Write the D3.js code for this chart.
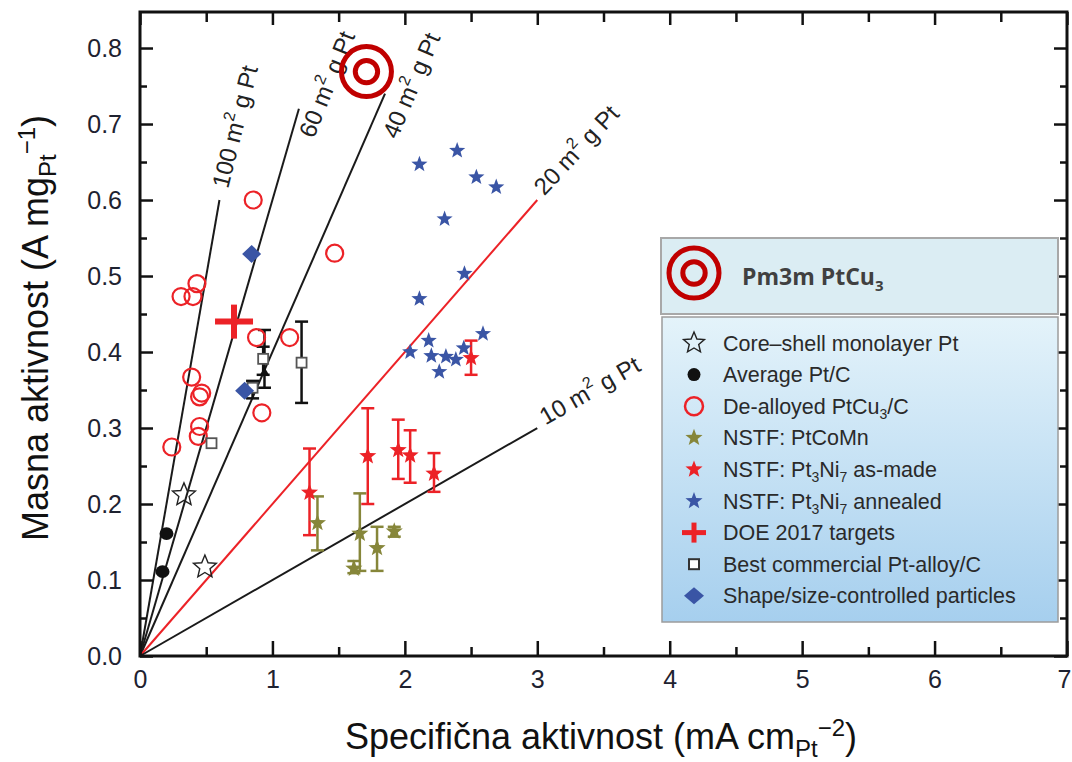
<!DOCTYPE html>
<html><head><meta charset="utf-8">
<script src="https://cdn.jsdelivr.net/npm/d3@7"></script>
<style>body{margin:0;background:#fff}svg{display:block}</style>
</head><body>
<svg id="c" width="1072" height="762"></svg>
<script>
// ---------------- DATA ----------------
const xTicks = [0,1,2,3,4,5,6,7];
const xMinorTicks = [0.5,1.5,2.5,3.5,4.5,5.5,6.5];
const yTicks = [0,0.1,0.2,0.3,0.4,0.5,0.6,0.7,0.8];
const yTickLabels = ["0.0","0.1","0.2","0.3","0.4","0.5","0.6","0.7","0.8"];
const yMinorTicks = [0.05,0.15,0.25,0.35,0.45,0.55,0.65,0.75];

// ECSA reference lines (m2/g Pt) and the specific activity where each ends
const ecsaValues = [100, 60, 40, 20, 10];
const ecsaEndSA = [0.6, 1.2, 1.85, 3.0, 3.0];
const ecsaLabelSA = [0.62, 1.27, 1.90, 3.02, 3.04];
const ecsaLabelMA = [0.616, 0.683, 0.682, 0.610, 0.310];

// Core-shell monolayer Pt  [SA, MA]
const coreShell = [[0.332,0.212],[0.49,0.117]];
// Average Pt/C
const avgPtC = [[0.20,0.161],[0.17,0.111]];
// De-alloyed PtCu3/C
const dealloyed = [[0.855,0.600],[1.47,0.530],[0.43,0.490],[0.31,0.473],[0.40,0.473],
  [0.88,0.419],[1.13,0.419],[0.39,0.367],[0.466,0.346],[0.45,0.341],[0.92,0.320],
  [0.45,0.302],[0.44,0.289],[0.24,0.275]];
// NSTF: PtCoMn  [SA, MA, low, high]
const ptCoMn = [[1.34,0.175,0.139,0.210],[1.66,0.161,0.112,0.214],[1.615,0.115,0.109,0.125],
  [1.79,0.142,0.112,0.170],[1.92,0.164,0.157,0.170]];
// NSTF: Pt3Ni7 as-made  [SA, MA, low, high]
const ptNiAsMade = [[1.28,0.215,0.159,0.273],[1.72,0.263,0.200,0.326],[1.95,0.271,0.233,0.311],
  [2.04,0.264,0.228,0.297],[2.22,0.240,0.216,0.267],[2.50,0.392,0.370,0.415]];
// NSTF: Pt3Ni7 annealed
const ptNiAnnealed = [[2.395,0.665],[2.11,0.647],[2.54,0.630],[2.69,0.617],[2.30,0.575],
  [2.45,0.503],[2.11,0.470],[2.59,0.424],[2.18,0.415],[2.04,0.400],[2.20,0.395],
  [2.31,0.394],[2.385,0.390],[2.445,0.405],[2.26,0.374]];
// DOE 2017 targets
const doeTarget = [[0.71,0.44]];
// Best commercial Pt-alloy/C [SA, MA, low, high] (null = no error bar)
const bestCommercial = [[0.54,0.280,null,null],[0.93,0.391,0.370,0.407],
  [1.22,0.386,0.333,0.440],[0.85,0.353,0.339,0.362]];
// extra unlabeled black point with error bar
const extraBlack = [[0.94,0.374,0.353,0.429]];
// Shape/size-controlled particles
const shapeControlled = [[0.843,0.529],[0.79,0.349]];
// Pm3m PtCu3 highlight
const pm3m = [[1.71,0.769]];

const legendLabels = ["Core\u2013shell monolayer Pt","Average Pt/C","De-alloyed PtCu|3|/C",
  "NSTF: PtCoMn","NSTF: Pt|3|Ni|7| as-made","NSTF: Pt|3|Ni|7| annealed","DOE 2017 targets",
  "Best commercial Pt-alloy/C","Shape/size-controlled particles"];

// ---------------- DRAWING ----------------
const RED = "#ec2227", BLUE = "#3a55a5", OLIVE = "#86863a", TARGET = "#c00000";
const FONT = "'Liberation Sans', Arial, Helvetica, sans-serif";
const svg = d3.select("#c");
svg.append("rect").attr("width",1072).attr("height",762).attr("fill","#fff");

const x = d3.scaleLinear().domain([0,7]).range([140,1067]);
const y = d3.scaleLinear().domain([0,0.8474]).range([656,12]);

function starPath(R, ratio){
  const pts=[];
  for(let i=0;i<10;i++){
    const a=-Math.PI/2+i*Math.PI/5, r=i%2?R*ratio:R;
    pts.push([r*Math.cos(a), r*Math.sin(a)]);
  }
  return "M"+pts.map(p=>p[0].toFixed(2)+","+p[1].toFixed(2)).join("L")+"Z";
}

// ECSA lines
const lineG = svg.append("g");
ecsaValues.forEach((e,i)=>{
  const sa=ecsaEndSA[i], ma=sa*e*0.01;
  lineG.append("line").attr("x1",x(0)).attr("y1",y(0)).attr("x2",x(sa)).attr("y2",y(ma))
    .attr("stroke", e===20?RED:"#1a1a1a").attr("stroke-width",2);
});
const labelAngles = [-76,-68,-67,-47,-30];
ecsaValues.forEach((e,i)=>{
  const t = lineG.append("text")
    .attr("transform",`translate(${x(ecsaLabelSA[i])},${y(ecsaLabelMA[i])}) rotate(${labelAngles[i]})`)
    .attr("font-family",FONT).attr("font-size",24).attr("fill","#222")
    .attr("dominant-baseline","middle");
  t.append("tspan").text(e+" m");
  t.append("tspan").attr("font-size",16).attr("dy",-9).text("2");
  t.append("tspan").attr("dy",9).text(" g Pt");
});

// Axes (ticks inward)
function styleAxis(g){
  g.select(".domain").remove();
  g.selectAll(".tick line").attr("stroke","#111").attr("stroke-width",2.5);
  g.selectAll("text").attr("font-family",FONT).attr("font-size",25).attr("fill","#1e2230");
}
svg.append("g").attr("transform",`translate(0,${y(0)})`)
  .call(d3.axisBottom(x).tickValues(xTicks).tickSize(-15).tickPadding(14).tickFormat(d3.format("d"))).call(styleAxis)
  .selectAll(".tick text").attr("dx",d=>d===7?-3:0);
svg.append("g").attr("transform",`translate(0,${y(0)})`)
  .call(d3.axisBottom(x).tickValues(xMinorTicks).tickSize(-9).tickFormat("")).call(styleAxis);
svg.append("g").attr("transform",`translate(0,${y.range()[1]})`)
  .call(d3.axisTop(x).tickValues(xTicks).tickSize(-13).tickFormat("")).call(styleAxis);
svg.append("g").attr("transform",`translate(0,${y.range()[1]})`)
  .call(d3.axisTop(x).tickValues(xMinorTicks).tickSize(-10).tickFormat("")).call(styleAxis);
svg.append("g").attr("transform",`translate(${x(0)},0)`)
  .call(d3.axisLeft(y).tickValues(yTicks).tickSize(-13).tickPadding(18).tickFormat((d,i)=>yTickLabels[i])).call(styleAxis);
svg.append("g").attr("transform",`translate(${x(0)},0)`)
  .call(d3.axisLeft(y).tickValues(yMinorTicks).tickSize(-7).tickFormat("")).call(styleAxis);
svg.append("g").attr("transform",`translate(${x(7)},0)`)
  .call(d3.axisRight(y).tickValues(yTicks).tickSize(-13).tickFormat("")).call(styleAxis);
svg.append("g").attr("transform",`translate(${x(7)},0)`)
  .call(d3.axisRight(y).tickValues(yMinorTicks).tickSize(-7).tickFormat("")).call(styleAxis);

// frame
svg.append("rect").attr("x",x(0)).attr("y",y.range()[1]).attr("width",x(7)-x(0)).attr("height",y(0)-y.range()[1])
  .attr("fill","none").attr("stroke","#111").attr("stroke-width",3);

// error bars helper
function errorBars(data, color, cap){
  const g = svg.append("g").attr("stroke",color).attr("stroke-width",2.5).attr("fill","none");
  data.filter(d=>d[2]!=null).forEach(d=>{
    g.append("line").attr("x1",x(d[0])).attr("x2",x(d[0])).attr("y1",y(d[2])).attr("y2",y(d[3]));
    [d[2],d[3]].forEach(v=>g.append("line").attr("x1",x(d[0])-cap).attr("x2",x(d[0])+cap).attr("y1",y(v)).attr("y2",y(v)));
  });
}
errorBars(extraBlack,"#111",6.5);
errorBars(bestCommercial,"#111",6.5);
errorBars(ptCoMn,OLIVE,6.5);
errorBars(ptNiAsMade,RED,6.5);

// markers
const mk = svg.append("g");
mk.selectAll(".ds").data(dealloyed).join("circle").attr("cx",d=>x(d[0])).attr("cy",d=>y(d[1])).attr("r",8.5)
  .attr("fill","none").attr("stroke",RED).attr("stroke-width",2.2);
mk.selectAll(".cs").data(coreShell).join("path").attr("d",starPath(12,0.45))
  .attr("transform",d=>`translate(${x(d[0])},${y(d[1])})`).attr("fill","none").attr("stroke","#222").attr("stroke-width",1.4);
mk.selectAll(".av").data(avgPtC).join("ellipse").attr("cx",d=>x(d[0])).attr("cy",d=>y(d[1])).attr("rx",7).attr("ry",6.3).attr("fill","#111");
mk.selectAll(".eb").data(extraBlack).join("path").attr("d",d3.symbol(d3.symbolTriangle,30)())
  .attr("transform",d=>`translate(${x(d[0])},${y(d[1])})`).attr("fill","#111");
mk.selectAll(".bc").data(bestCommercial).join("rect").attr("x",d=>x(d[0])-5).attr("y",d=>y(d[1])-5).attr("width",10).attr("height",10)
  .attr("fill","#fff").attr("stroke","#555").attr("stroke-width",1.8);
mk.selectAll(".sc").data(shapeControlled).join("path").attr("d","M0,-9L9.5,0L0,9L-9.5,0Z")
  .attr("transform",d=>`translate(${x(d[0])},${y(d[1])})`).attr("fill",BLUE);
mk.selectAll(".pc").data(ptCoMn).join("path").attr("d",starPath(9,0.42))
  .attr("transform",d=>`translate(${x(d[0])},${y(d[1])})`).attr("fill",OLIVE);
mk.selectAll(".pn").data(ptNiAsMade).join("path").attr("d",starPath(9,0.42))
  .attr("transform",d=>`translate(${x(d[0])},${y(d[1])})`).attr("fill",RED);
mk.selectAll(".pa").data(ptNiAnnealed).join("path").attr("d",starPath(8.5,0.42))
  .attr("transform",d=>`translate(${x(d[0])},${y(d[1])})`).attr("fill",BLUE);
doeTarget.forEach(d=>{
  mk.append("line").attr("x1",x(d[0])-19).attr("x2",x(d[0])+19).attr("y1",y(d[1])).attr("y2",y(d[1])).attr("stroke",RED).attr("stroke-width",6);
  mk.append("line").attr("x1",x(d[0])).attr("x2",x(d[0])).attr("y1",y(d[1])-17).attr("y2",y(d[1])+17).attr("stroke",RED).attr("stroke-width",6);
});
function target(g,cx,cy){
  g.append("circle").attr("cx",cx).attr("cy",cy).attr("r",25).attr("fill","none").attr("stroke",TARGET).attr("stroke-width",5);
  g.append("circle").attr("cx",cx).attr("cy",cy).attr("r",11.2).attr("fill","none").attr("stroke",TARGET).attr("stroke-width",5);
}
pm3m.forEach(d=>target(mk,x(d[0]),y(d[1])));

// axis titles
const xt = svg.append("text").attr("x",601).attr("y",749).attr("text-anchor","middle")
  .attr("font-family",FONT).attr("font-size",36).attr("fill","#111");
xt.append("tspan").text("Specifi\u010dna aktivnost (mA cm");
xt.append("tspan").attr("font-size",24).attr("dy",8).text("Pt");
xt.append("tspan").attr("font-size",24).attr("dy",-21).text("\u22122");
xt.append("tspan").attr("dy",13).text(")");
const yt = svg.append("text").attr("transform","translate(48,328) rotate(-90)").attr("text-anchor","middle")
  .attr("font-family",FONT).attr("font-size",36).attr("fill","#111");
yt.append("tspan").text("Masna aktivnost (A mg");
yt.append("tspan").attr("font-size",24).attr("dy",8).text("Pt");
yt.append("tspan").attr("font-size",24).attr("dy",-21).text("\u22121");
yt.append("tspan").attr("dy",13).text(")");

// legend
const defs = svg.append("defs");
const grad = defs.append("linearGradient").attr("id","lg").attr("x1",0).attr("y1",0).attr("x2",0).attr("y2",1);
grad.append("stop").attr("offset","0%").attr("stop-color","#e4f3fa");
grad.append("stop").attr("offset","100%").attr("stop-color","#a6cfee");
const L = svg.append("g");
L.append("rect").attr("x",661).attr("y",238).attr("width",397).attr("height",76).attr("fill","#dbedf3").attr("stroke","#a8a8a8").attr("stroke-width",2);
target(L,694,273);
const tt = L.append("text").attr("x",742).attr("y",285).attr("font-family","'Open Sans', sans-serif").attr("font-weight","bold")
  .attr("font-size",23).attr("fill","#404040");
tt.append("tspan").text("Pm3m PtCu");
tt.append("tspan").attr("font-size",15).attr("dy",6).text("3");
L.append("rect").attr("x",662).attr("y",317).attr("width",396).attr("height",305).attr("fill","url(#lg)").attr("stroke","#9c9c9c").attr("stroke-width",1.5);

const rowY = i => 343 + i*31.6;
const ix = 694;
L.append("path").attr("d",starPath(11,0.45)).attr("transform",`translate(${ix},${rowY(0)})`).attr("fill","none").attr("stroke","#222").attr("stroke-width",1.4);
L.append("circle").attr("cx",ix).attr("cy",rowY(1)).attr("r",6.5).attr("fill","#111");
L.append("circle").attr("cx",ix).attr("cy",rowY(2)).attr("r",9).attr("fill","none").attr("stroke",RED).attr("stroke-width",2.5);
L.append("path").attr("d",starPath(9,0.42)).attr("transform",`translate(${ix},${rowY(3)})`).attr("fill",OLIVE);
L.append("path").attr("d",starPath(9,0.42)).attr("transform",`translate(${ix},${rowY(4)})`).attr("fill",RED);
L.append("path").attr("d",starPath(9,0.42)).attr("transform",`translate(${ix},${rowY(5)})`).attr("fill",BLUE);
L.append("line").attr("x1",ix-12).attr("x2",ix+12).attr("y1",rowY(6)).attr("y2",rowY(6)).attr("stroke",RED).attr("stroke-width",5);
L.append("line").attr("x1",ix).attr("x2",ix).attr("y1",rowY(6)-10).attr("y2",rowY(6)+10).attr("stroke",RED).attr("stroke-width",5);
L.append("rect").attr("x",ix-5).attr("y",rowY(7)-5).attr("width",10).attr("height",10).attr("fill","#fff").attr("stroke","#333").attr("stroke-width",2);
L.append("path").attr("d","M0,-8.5L10,0L0,8.5L-10,0Z").attr("transform",`translate(${ix},${rowY(8)})`).attr("fill",BLUE);

legendLabels.forEach((lab,i)=>{
  const t = L.append("text").attr("x",723).attr("y",rowY(i)+7.5).attr("font-family",FONT).attr("font-size",21.5).attr("fill","#2a2a2a");
  lab.split("|").forEach((part,j)=>{
    if(j%2===1) t.append("tspan").attr("font-size",14).attr("dy",5).text(part);
    else if(j>0) t.append("tspan").attr("dy",-5).text(part);
    else t.append("tspan").text(part);
  });
});
</script>
</body></html>
